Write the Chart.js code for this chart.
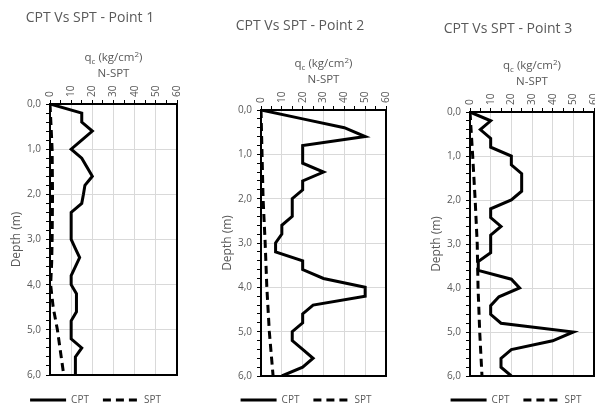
<!DOCTYPE html>
<html><head><meta charset="utf-8">
<script src="https://cdn.jsdelivr.net/npm/chart.js@4/dist/chart.umd.min.js"></script>
<style>
html,body{margin:0;padding:0;width:595px;height:409px;overflow:hidden;background:#fff;font-family:'Open Sans',sans-serif;}
canvas{position:absolute;top:0;}
.t{position:absolute;transform:translate(-50%,-50%);white-space:nowrap;color:#595959;line-height:1;}
.tt{font-size:14px;}
.at{font-size:11.5px;}
.sb{font-size:8px;position:relative;top:3px;}
.sp{font-size:8px;position:relative;top:-4px;}
</style></head><body>
<canvas id="c1" width="188" height="415" style="left:4px"></canvas>
<canvas id="c2" width="186" height="415" style="left:215px"></canvas>
<canvas id="c3" width="186" height="415" style="left:424px"></canvas>

<div class="t tt" style="left:90px;top:17px">CPT Vs SPT - Point 1</div>
<div class="t tt" style="left:300px;top:25px">CPT Vs SPT - Point 2</div>
<div class="t tt" style="left:508px;top:28px">CPT Vs SPT - Point 3</div>

<div class="t at" style="left:113.5px;top:57px">q<span class="sb">c</span> (kg/cm<span class="sp">2</span>)</div>
<div class="t at" style="left:113.5px;top:73px">N-SPT</div>
<div class="t at" style="left:323.5px;top:63px">q<span class="sb">c</span> (kg/cm<span class="sp">2</span>)</div>
<div class="t at" style="left:323.5px;top:79px">N-SPT</div>
<div class="t at" style="left:532px;top:65px">q<span class="sb">c</span> (kg/cm<span class="sp">2</span>)</div>
<div class="t at" style="left:532px;top:81px">N-SPT</div>

<script>
// Depths (m) at which CPT readings are taken
const depthCPT = [0.0,0.2,0.4,0.6,0.8,1.0,1.2,1.4,1.6,1.8,2.0,2.2,2.4,2.6,2.8,3.0,3.2,3.4,3.6,3.8,4.0,4.2,4.4,4.6,4.8,5.0,5.2,5.4,5.6,5.8,6.0];
// CPT qc (kg/cm2)
const cpt1 = [0,15,15,20,15,10,15,17.5,20,16.5,15.8,15,10,10,10,10,12,14,12,10,10,12.5,12.5,12.5,10,10,10,15,12,12,12];
const cpt2 = [0,20,40,50,20,20,20,30,20,20,15,15,15,10,10,7,7,20,20,30,50,50,25,20,20,15,15,20,25,20,10];
const cpt3 = [0,10,5,10,10,20,20,25,25,25,20,10,10,15,10,10,10,4,4,20,24,14,10,10,15,50,40,20,15,15,20];
// SPT depths and N values
const depthSPT1 = [0,1,2,3,3.5,4,4.5,5,5.5,6];
const spt1 = [0,1,1.2,1,0.8,0.3,1.5,3.5,5,6.5];
const depthSPT = [0,1,2,3,4,5,6];
const spt2 = [0,0.5,1,2,2.8,4,5.8];
const spt3 = [0,1.3,2.5,3.5,3.9,4.7,5.8];
// Axis ticks
const xMin = 0, xMax = 60, xMajor = 10, xMinor = 5;
const yMin = 0, yMax = 6, yMinor = 0.2;

Chart.defaults.font.family = "'Open Sans', sans-serif";
const GRID = '#d9d9d9';
const TXT = '#595959';
const isInt = v => Math.abs(v - Math.round(v)) < 1e-6;

function legendLabels(chart) {
  const items = Chart.defaults.plugins.legend.labels.generateLabels(chart);
  items.forEach((it, i) => {
    const ds = chart.data.datasets[i];
    it.lineDash = ds.borderDash || [];
    it.lineWidth = 3;
    it.strokeStyle = '#000';
    it.pointStyle = 'line';
    it.fontColor = TXT;
  });
  return items;
}

function makeChart(id, cpt, sptD, spt, padTop, padRight, y2w, x2h) {
  new Chart(document.getElementById(id), {
    type: 'scatter',
    data: {
      datasets: [
        { label: 'CPT', data: depthCPT.map((d, i) => ({ x: cpt[i], y: d })),
          borderColor: '#000', backgroundColor: '#000', borderWidth: 3,
          pointRadius: 0, pointHoverRadius: 0, showLine: true, xAxisID: 'x', yAxisID: 'y' },
        { label: 'SPT', data: sptD.map((d, i) => ({ x: spt[i], y: d })),
          borderColor: '#000', backgroundColor: '#000', borderWidth: 3, borderDash: [8, 5],
          pointRadius: 0, pointHoverRadius: 0, showLine: true, xAxisID: 'x', yAxisID: 'y' }
      ]
    },
    options: {
      responsive: false, animation: false, devicePixelRatio: 1,
      layout: { padding: { left: 2, right: padRight, top: padTop, bottom: 0 } },
      plugins: {
        title: { display: false },
        tooltip: { enabled: false },
        legend: {
          display: true, position: 'bottom',
          labels: { usePointStyle: true, pointStyle: 'line', pointStyleWidth: 36, padding: 14,
                    color: TXT, font: { size: 10 }, generateLabels: legendLabels }
        }
      },
      scales: {
        x: {
          type: 'linear', position: 'top', min: xMin, max: xMax,
          afterFit: s => { s.height = 26; },
          ticks: { stepSize: xMinor, autoSkip: false, minRotation: 90, maxRotation: 90, padding: 3, labelOffset: 12,
                   color: TXT, font: { size: 10 }, callback: v => (v % xMajor === 0 ? String(v) : '') },
          grid: { color: c => (c.tick && c.tick.value % xMajor === 0 ? GRID : 'rgba(0,0,0,0)'),
                  tickColor: '#000', tickLength: 4, lineWidth: 1 },
          border: { display: true, color: '#000', width: 2 }
        },
        y: {
          type: 'linear', position: 'left', reverse: true, min: yMin, max: yMax,
          afterFit: s => { s.width = 44; },
          title: { display: true, text: 'Depth (m)', color: TXT, font: { size: 12 }, padding: { top: 3, bottom: 3 } },
          ticks: { stepSize: yMinor, autoSkip: false, padding: 5, color: TXT, font: { size: 10 },
                   callback: v => (isInt(v) ? v.toFixed(1).replace('.', ',') : '') },
          grid: { color: c => (c.tick && isInt(c.tick.value) ? GRID : 'rgba(0,0,0,0)'),
                  tickColor: '#000', tickLength: 4, lineWidth: 1 },
          border: { display: true, color: '#000', width: 2 }
        },
        x2: {
          type: 'linear', axis: 'x', position: 'bottom', min: xMin, max: xMax,
          afterFit: s => { s.height = x2h; },
          ticks: { display: false }, grid: { display: false, drawTicks: false },
          border: { display: true, color: '#000', width: 2 }
        },
        y2: {
          type: 'linear', axis: 'y', position: 'right', min: yMin, max: yMax,
          afterFit: s => { s.width = y2w; },
          ticks: { display: false }, grid: { display: false, drawTicks: false },
          border: { display: true, color: '#000', width: 2 }
        }
      }
    }
  });
}

makeChart('c1', cpt1, depthSPT1, spt1, 78, 7, 8, 6);
makeChart('c2', cpt2, depthSPT, spt2, 84, 6, 9, 5);
makeChart('c3', cpt3, depthSPT, spt3, 86, 4, 12, 5);
</script>
</body></html>
